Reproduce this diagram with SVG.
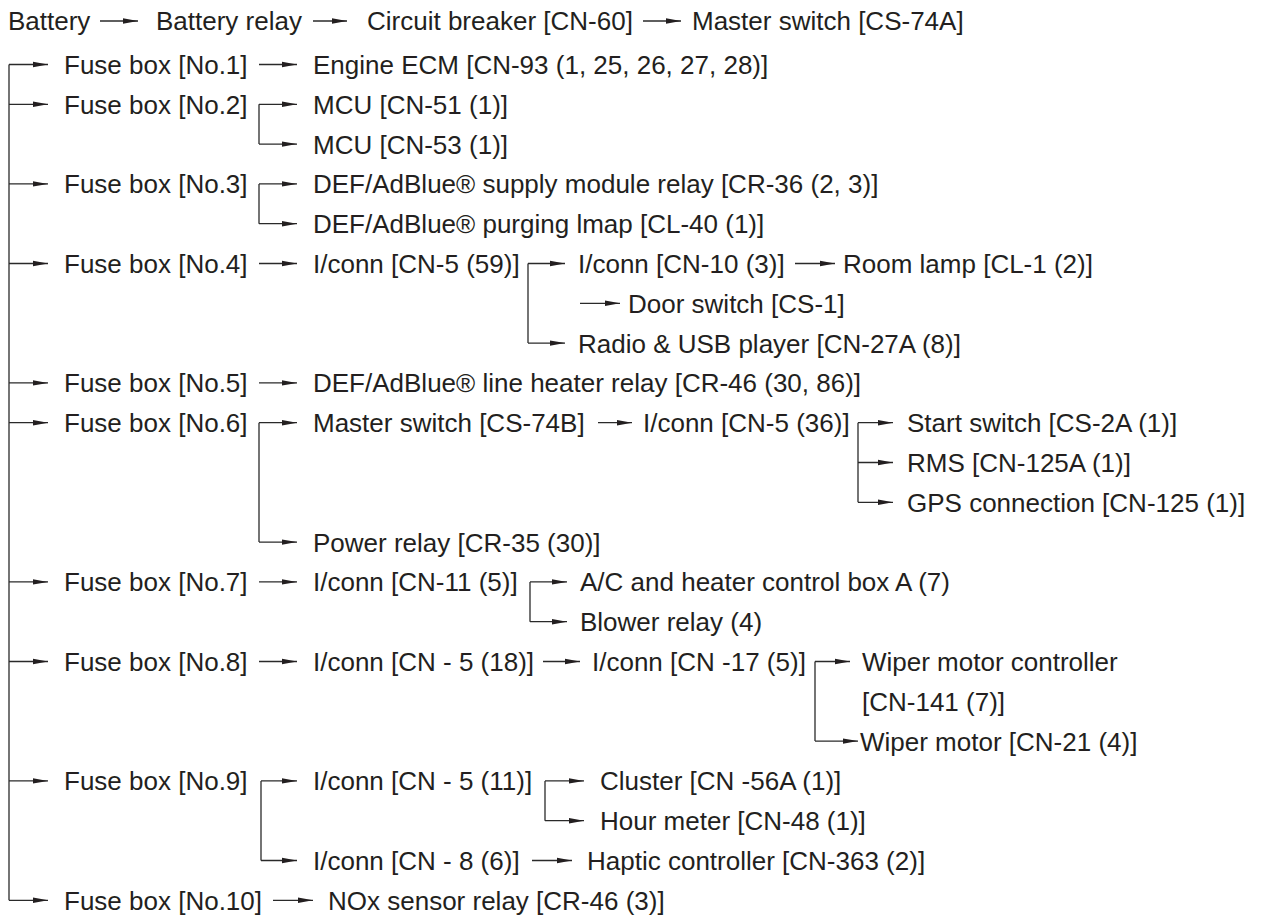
<svg xmlns="http://www.w3.org/2000/svg" width="1263" height="917" viewBox="0 0 1263 917">
<style>
text{font-family:"Liberation Sans",Arial,Helvetica,sans-serif;font-size:26px;fill:#231f20}
.c line,.c path{stroke:#2a2a2a;stroke-width:1.3;fill:none}
.a{marker-end:url(#ah)}
</style>
<defs>
<marker id="ah" markerWidth="15" markerHeight="7" refX="15" refY="3.5" orient="auto" markerUnits="userSpaceOnUse"><path d="M0,0.8 L15,3.5 L0,6.2 Z" fill="#231f20"/></marker>
</defs>
<rect width="1263" height="917" fill="#fff"/>
<g id="connectors" class="c">
<line class="a" x1="100" y1="21" x2="138" y2="21"/>
<line class="a" x1="313" y1="21" x2="347" y2="21"/>
<line class="a" x1="643" y1="21" x2="681" y2="21"/>
<line x1="9" y1="64.5" x2="9" y2="900.3"/>
<line class="a" x1="9" y1="64.5" x2="48" y2="64.5"/>
<line class="a" x1="9" y1="104.3" x2="48" y2="104.3"/>
<line class="a" x1="9" y1="183.9" x2="48" y2="183.9"/>
<line class="a" x1="9" y1="263.5" x2="48" y2="263.5"/>
<line class="a" x1="9" y1="382.9" x2="48" y2="382.9"/>
<line class="a" x1="9" y1="422.7" x2="48" y2="422.7"/>
<line class="a" x1="9" y1="581.9" x2="48" y2="581.9"/>
<line class="a" x1="9" y1="661.5" x2="48" y2="661.5"/>
<line class="a" x1="9" y1="780.9" x2="48" y2="780.9"/>
<line class="a" x1="9" y1="900.3" x2="48" y2="900.3"/>
<line class="a" x1="259" y1="64.5" x2="297" y2="64.5"/>
<line x1="259" y1="104.3" x2="259" y2="144.1"/>
<line class="a" x1="259" y1="104.3" x2="297" y2="104.3"/>
<line class="a" x1="259" y1="144.1" x2="297" y2="144.1"/>
<line x1="259" y1="183.9" x2="259" y2="223.7"/>
<line class="a" x1="259" y1="183.9" x2="297" y2="183.9"/>
<line class="a" x1="259" y1="223.7" x2="297" y2="223.7"/>
<line class="a" x1="259" y1="263.5" x2="297" y2="263.5"/>
<line class="a" x1="259" y1="382.9" x2="297" y2="382.9"/>
<line x1="259" y1="422.7" x2="259" y2="542.1"/>
<line class="a" x1="259" y1="422.7" x2="297" y2="422.7"/>
<line class="a" x1="259" y1="542.1" x2="297" y2="542.1"/>
<line class="a" x1="259" y1="581.9" x2="297" y2="581.9"/>
<line class="a" x1="259" y1="661.5" x2="297" y2="661.5"/>
<line x1="261" y1="780.9" x2="261" y2="860.5"/>
<line class="a" x1="261" y1="780.9" x2="297" y2="780.9"/>
<line class="a" x1="261" y1="860.5" x2="297" y2="860.5"/>
<line class="a" x1="273" y1="900.3" x2="313" y2="900.3"/>
<line x1="528" y1="263.5" x2="528" y2="343.1"/>
<line class="a" x1="528" y1="263.5" x2="565" y2="263.5"/>
<line class="a" x1="528" y1="343.1" x2="565" y2="343.1"/>
<line class="a" x1="795" y1="263.5" x2="835" y2="263.5"/>
<line class="a" x1="580" y1="303.3" x2="620" y2="303.3"/>
<line class="a" x1="598" y1="422.7" x2="632" y2="422.7"/>
<line x1="858" y1="422.7" x2="858" y2="502.3"/>
<line class="a" x1="858" y1="422.7" x2="893" y2="422.7"/>
<line class="a" x1="858" y1="462.5" x2="893" y2="462.5"/>
<line class="a" x1="858" y1="502.3" x2="893" y2="502.3"/>
<line x1="530" y1="581.9" x2="530" y2="621.7"/>
<line class="a" x1="530" y1="581.9" x2="567" y2="581.9"/>
<line class="a" x1="530" y1="621.7" x2="567" y2="621.7"/>
<line class="a" x1="543" y1="661.5" x2="580" y2="661.5"/>
<line x1="815" y1="661.5" x2="815" y2="741.1"/>
<line class="a" x1="815" y1="661.5" x2="850" y2="661.5"/>
<line class="a" x1="815" y1="741.1" x2="858" y2="741.1"/>
<line x1="545" y1="780.9" x2="545" y2="820.7"/>
<line class="a" x1="545" y1="780.9" x2="584" y2="780.9"/>
<line class="a" x1="545" y1="820.7" x2="584" y2="820.7"/>
<line class="a" x1="532" y1="860.5" x2="572" y2="860.5"/>
</g>
<g id="battery"><text x="8" y="30">Battery</text></g>
<g id="battery-relay"><text x="156" y="30">Battery relay</text></g>
<g id="circuit-breaker"><text x="367" y="30">Circuit breaker [CN-60]</text></g>
<g id="master-switch-a"><text x="692" y="30">Master switch [CS-74A]</text></g>
<g id="fuse1"><text x="64" y="74">Fuse box [No.1]</text></g>
<g id="engine-ecm"><text x="313" y="74">Engine ECM [CN-93 (1, 25, 26, 27, 28)]</text></g>
<g id="fuse2"><text x="64" y="113.8">Fuse box [No.2]</text></g>
<g id="mcu51"><text x="313" y="113.8">MCU [CN-51 (1)]</text></g>
<g id="mcu53"><text x="313" y="153.6">MCU [CN-53 (1)]</text></g>
<g id="fuse3"><text x="64" y="193.4">Fuse box [No.3]</text></g>
<g id="def-supply"><text x="313" y="193.4">DEF/AdBlue® supply module relay [CR-36 (2, 3)]</text></g>
<g id="def-purge"><text x="313" y="233.2">DEF/AdBlue® purging lmap [CL-40 (1)]</text></g>
<g id="fuse4"><text x="64" y="273">Fuse box [No.4]</text></g>
<g id="iconn-cn5-59"><text x="313" y="273">I/conn [CN-5 (59)]</text></g>
<g id="iconn-cn10"><text x="578" y="273">I/conn [CN-10 (3)]</text></g>
<g id="room-lamp"><text x="843" y="273">Room lamp [CL-1 (2)]</text></g>
<g id="door-switch"><text x="628" y="312.8">Door switch [CS-1]</text></g>
<g id="radio"><text x="578" y="352.6">Radio &amp; USB player [CN-27A (8)]</text></g>
<g id="fuse5"><text x="64" y="392.4">Fuse box [No.5]</text></g>
<g id="def-heater"><text x="313" y="392.4">DEF/AdBlue® line heater relay [CR-46 (30, 86)]</text></g>
<g id="fuse6"><text x="64" y="432.2">Fuse box [No.6]</text></g>
<g id="master-switch-b"><text x="313" y="432.2">Master switch [CS-74B]</text></g>
<g id="iconn-cn5-36"><text x="643" y="432.2">I/conn [CN-5 (36)]</text></g>
<g id="start-switch"><text x="907" y="432.2">Start switch [CS-2A (1)]</text></g>
<g id="rms"><text x="907" y="472">RMS [CN-125A (1)]</text></g>
<g id="gps"><text x="907" y="511.8">GPS connection [CN-125 (1)]</text></g>
<g id="power-relay"><text x="313" y="551.6">Power relay [CR-35 (30)]</text></g>
<g id="fuse7"><text x="64" y="591.4">Fuse box [No.7]</text></g>
<g id="iconn-cn11"><text x="313" y="591.4">I/conn [CN-11 (5)]</text></g>
<g id="ac-box"><text x="580" y="591.4">A/C and heater control box A (7)</text></g>
<g id="blower"><text x="580" y="631.2">Blower relay (4)</text></g>
<g id="fuse8"><text x="64" y="671">Fuse box [No.8]</text></g>
<g id="iconn-cn5-18"><text x="313" y="671">I/conn [CN - 5 (18)]</text></g>
<g id="iconn-cn17"><text x="592" y="671">I/conn [CN -17 (5)]</text></g>
<g id="wiper-controller"><text x="862" y="671">Wiper motor controller</text><text x="862" y="710.8">[CN-141 (7)]</text></g>
<g id="wiper-motor"><text x="860" y="750.6">Wiper motor [CN-21 (4)]</text></g>
<g id="fuse9"><text x="64" y="790.4">Fuse box [No.9]</text></g>
<g id="iconn-cn5-11"><text x="313" y="790.4">I/conn [CN - 5 (11)]</text></g>
<g id="cluster"><text x="600" y="790.4">Cluster [CN -56A (1)]</text></g>
<g id="hour-meter"><text x="600" y="830.2">Hour meter [CN-48 (1)]</text></g>
<g id="iconn-cn8"><text x="313" y="870">I/conn [CN - 8 (6)]</text></g>
<g id="haptic"><text x="587" y="870">Haptic controller [CN-363 (2)]</text></g>
<g id="fuse10"><text x="64" y="909.8">Fuse box [No.10]</text></g>
<g id="nox"><text x="328" y="909.8">NOx sensor relay [CR-46 (3)]</text></g>
</svg>
